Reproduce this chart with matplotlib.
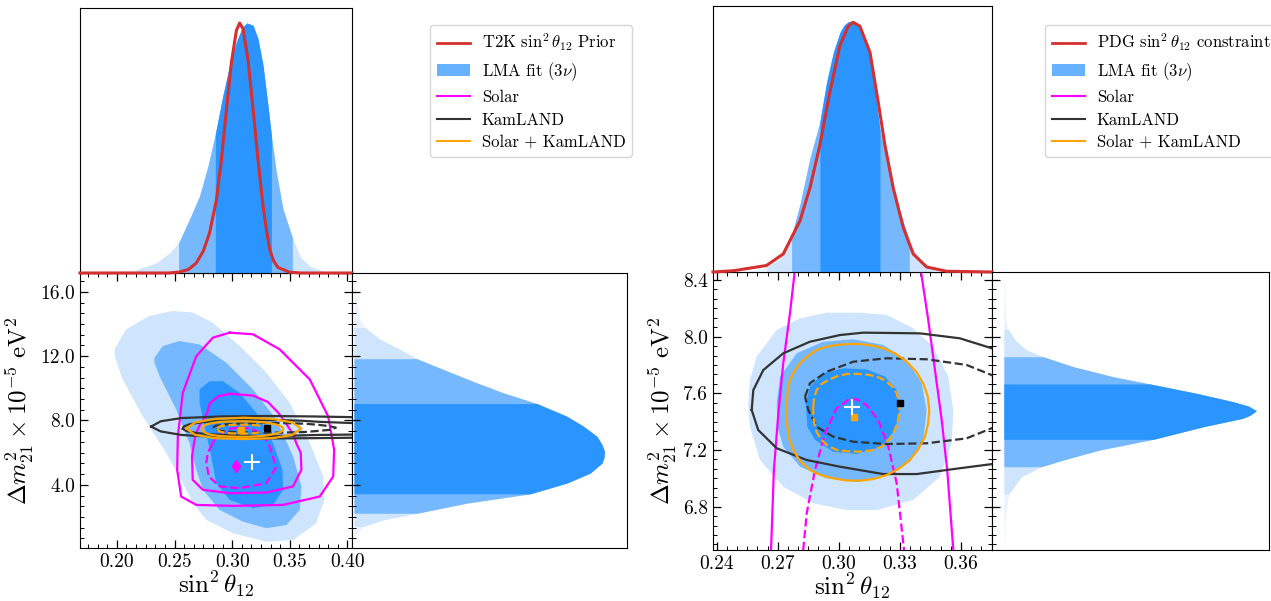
import numpy as np
import matplotlib
matplotlib.use("Agg")
import matplotlib.pyplot as plt
from matplotlib.lines import Line2D
from matplotlib.patches import Patch
from matplotlib.ticker import MultipleLocator, AutoMinorLocator, FormatStrFormatter

plt.rcParams.update({
    "font.family": "serif",
    "font.serif": ["cmr10"],
    "mathtext.fontset": "cm",
    "axes.formatter.use_mathtext": True,
    "axes.unicode_minus": False,
})

# ---------------- data ----------------
# left: LMA fit with T2K prior, contours (x = sin^2 theta12, y = dm2 in 1e-5 eV^2)
lma_left_3s = [(0.198, 12.42), (0.208, 13.67), (0.228, 14.50), (0.2485, 14.81), (0.266, 14.71),
               (0.283, 14.09), (0.3065, 12.63), (0.3297, 10.97), (0.350, 9.10), (0.3674, 6.60),
               (0.379, 4.52), (0.380, 3.06), (0.373, 1.61), (0.353, 0.57), (0.3297, 0.46),
               (0.3007, 0.99), (0.2776, 1.82), (0.266, 2.86), (0.2558, 4.31), (0.2428, 5.98),
               (0.2224, 8.26), (0.205, 10.55), (0.198, 12.0)]
lma_left_2s = [(0.2326, 11.9), (0.2398, 12.63), (0.2543, 12.94), (0.2717, 12.73), (0.295, 11.59),
               (0.3181, 9.93), (0.3384, 8.05), (0.3529, 5.77), (0.3601, 3.90), (0.3587, 2.44),
               (0.3471, 1.50), (0.3297, 1.30), (0.3094, 1.71), (0.2891, 2.44), (0.2746, 3.69),
               (0.2689, 4.94), (0.263, 6.60), (0.2515, 8.68), (0.237, 10.76), (0.2326, 11.6)]
lma_left_1s = [(0.2717, 9.93), (0.2804, 10.44), (0.292, 10.44), (0.3065, 9.72), (0.321, 8.47),
               (0.3355, 6.60), (0.3437, 4.94), (0.3442, 3.69), (0.3355, 2.75), (0.3181, 2.55),
               (0.2978, 3.06), (0.2862, 4.10), (0.2819, 5.77), (0.2761, 7.64), (0.2717, 9.10)]

# right: LMA fit with PDG constraint
lma_right_3s = [(0.2563, 7.694), (0.2596, 7.858), (0.2695, 8.047), (0.2809, 8.129), (0.294, 8.169),
                (0.3103, 8.169), (0.3235, 8.153), (0.3365, 8.059), (0.3463, 7.929), (0.3537, 7.717),
                (0.3562, 7.482), (0.3554, 7.247), (0.3496, 7.011), (0.3365, 6.847), (0.3186, 6.776),
                (0.3038, 6.776), (0.2874, 6.824), (0.2727, 6.941), (0.2613, 7.129), (0.2563, 7.364),
                (0.2555, 7.529)]
lma_right_2s = [(0.2695, 7.529), (0.2711, 7.717), (0.2793, 7.882), (0.2923, 7.964), (0.3071, 7.981),
                (0.3218, 7.941), (0.3333, 7.835), (0.3407, 7.671), (0.3431, 7.482), (0.3415, 7.271),
                (0.3349, 7.117), (0.3235, 7.023), (0.3087, 6.976), (0.294, 7.0), (0.2809, 7.082),
                (0.2727, 7.223), (0.2698, 7.364)]
lma_right_1s = [(0.2838, 7.529), (0.2858, 7.647), (0.2923, 7.741), (0.3022, 7.776), (0.3136, 7.769),
                (0.3226, 7.717), (0.3284, 7.623), (0.330, 7.482), (0.3275, 7.341), (0.321, 7.223),
                (0.3087, 7.172), (0.2972, 7.188), (0.2883, 7.271), (0.2845, 7.364)]

# Solar
solar_3s = [(0.2978, 13.46), (0.2833, 13.15), (0.2689, 12.0), (0.2572, 9.72), (0.2529, 7.01),
            (0.2523, 4.94), (0.2558, 3.27), (0.2689, 2.75), (0.3007, 2.69), (0.3442, 2.75),
            (0.376, 3.27), (0.3877, 4.52), (0.3885, 6.18), (0.3833, 8.26), (0.3674, 10.55),
            (0.3413, 12.42), (0.3181, 13.36)]
solar_2s = [(0.2978, 9.66), (0.288, 9.50), (0.2805, 9.05), (0.2784, 8.47), (0.276, 8.165),
            (0.2727, 7.812), (0.2703, 7.459), (0.2681, 7.059), (0.2667, 6.494), (0.2652, 5.77),
            (0.2658, 4.31), (0.2746, 3.69), (0.2978, 3.48), (0.3297, 3.52), (0.3529, 3.90),
            (0.3601, 4.94), (0.3595, 6.0), (0.3562, 6.494), (0.3532, 7.059), (0.3505, 7.412),
            (0.3472, 7.764), (0.3439, 8.117), (0.3402, 8.47), (0.331, 9.15), (0.3181, 9.55)]
solar_1s = [(0.2825, 6.494), (0.2842, 6.753), (0.2883, 7.059), (0.2932, 7.318), (0.2989, 7.494),
            (0.3046, 7.553), (0.3087, 7.558), (0.3136, 7.517), (0.3193, 7.412), (0.3243, 7.223),
            (0.3284, 6.965), (0.332, 6.494), (0.3365, 5.5), (0.3378, 5.04), (0.3297, 4.10),
            (0.3065, 3.79), (0.2891, 3.90), (0.2798, 4.52), (0.2776, 5.4), (0.279, 6.0)]

# KamLAND
kl_3s = [(0.2297, 7.62), (0.238, 7.95), (0.256, 8.15), (0.29, 8.25), (0.33, 8.28), (0.37, 8.25),
         (0.41, 8.20), (0.44, 8.10), (0.44, 6.95), (0.41, 6.93), (0.37, 6.90), (0.33, 6.88),
         (0.29, 6.95), (0.256, 7.10), (0.238, 7.32)]
kl_2s = [(0.2572, 7.482), (0.258, 7.623), (0.2629, 7.764), (0.2727, 7.882), (0.2858, 7.964),
         (0.3005, 8.011), (0.312, 8.028), (0.3398, 8.023), (0.3594, 7.988), (0.375, 7.918),
         (0.40, 7.85), (0.43, 7.80), (0.43, 7.15), (0.40, 7.12), (0.375, 7.10), (0.3594, 7.071),
         (0.3382, 7.030), (0.3218, 7.030), (0.3005, 7.082), (0.2842, 7.129), (0.2695, 7.212),
         (0.2604, 7.341)]
kl_1s = [(0.2834, 7.576), (0.2858, 7.671), (0.294, 7.752), (0.3071, 7.823), (0.3235, 7.847),
         (0.3431, 7.840), (0.3627, 7.80), (0.375, 7.729), (0.385, 7.64), (0.39, 7.55),
         (0.385, 7.42), (0.375, 7.353), (0.3627, 7.282), (0.3431, 7.247), (0.3235, 7.242),
         (0.3071, 7.258), (0.2972, 7.294), (0.2891, 7.364), (0.285, 7.482)]

# Solar + KamLAND
comb_3s = [(0.2602, 7.50), (0.268, 7.88), (0.285, 8.10), (0.31, 8.17), (0.335, 8.10), (0.352, 7.88),
           (0.36, 7.50), (0.352, 7.10), (0.335, 6.90), (0.31, 6.84), (0.285, 6.90), (0.268, 7.10)]
comb_2s = [(0.2744, 7.529), (0.2749, 7.62), (0.276, 7.694), (0.2781, 7.757), (0.2809, 7.812),
           (0.2847, 7.862), (0.2891, 7.906), (0.2937, 7.928), (0.2989, 7.941), (0.3046, 7.948),
           (0.3103, 7.948), (0.3162, 7.937), (0.3218, 7.918), (0.3280, 7.878), (0.3333, 7.823),
           (0.3380, 7.752), (0.3414, 7.671), (0.3436, 7.580), (0.3444, 7.482), (0.3438, 7.385),
           (0.3423, 7.294), (0.3390, 7.205), (0.3349, 7.129), (0.3295, 7.068), (0.3235, 7.023),
           (0.3170, 6.995), (0.3103, 6.983), (0.3036, 6.985), (0.2972, 7.0), (0.2912, 7.022),
           (0.2858, 7.059), (0.2810, 7.121), (0.2776, 7.2), (0.2756, 7.28), (0.2747, 7.364),
           (0.2743, 7.45)]
comb_1s = [(0.2874, 7.506), (0.2879, 7.570), (0.2891, 7.623), (0.2915, 7.665), (0.2948, 7.694),
           (0.2990, 7.720), (0.3038, 7.736), (0.3095, 7.737), (0.3153, 7.729), (0.3200, 7.710),
           (0.3235, 7.682), (0.3264, 7.645), (0.3284, 7.60), (0.3295, 7.54), (0.3297, 7.482),
           (0.3290, 7.410), (0.3275, 7.341), (0.3248, 7.275), (0.321, 7.223), (0.3160, 7.197),
           (0.3103, 7.188), (0.3045, 7.190), (0.2989, 7.20), (0.2945, 7.230), (0.2915, 7.271),
           (0.2892, 7.325), (0.2879, 7.388), (0.2874, 7.45)]

# best fit points
solar_best = (0.3037, 5.14)
kl_best = (0.330, 7.53)
comb_best = (0.3074, 7.43)
lma_best_left = (0.317, 5.39)
lma_best_right = (0.3063, 7.50)

# 1D marginals: sin^2 theta12 (x, relative density)
left_s12_x = [0.168, 0.1703, 0.1935, 0.2167, 0.2341, 0.2457, 0.2535, 0.2630, 0.2717, 0.2790,
              0.2854, 0.2920, 0.2978, 0.3037, 0.3089, 0.3129, 0.3181, 0.3224, 0.3268, 0.3311,
              0.3341, 0.3384, 0.3442, 0.3523, 0.3587, 0.3674, 0.3790, 0.3906, 0.404]
left_s12_p = [0, 0, 0.003, 0.013, 0.040, 0.080, 0.12, 0.215, 0.308, 0.428,
              0.555, 0.710, 0.830, 0.924, 0.984, 1.0, 0.991, 0.937, 0.830, 0.669,
              0.549, 0.402, 0.255, 0.141, 0.067, 0.027, 0.007, 0.0, 0]
left_s12_bands = [(0.2167, 0.3790), (0.2535, 0.3523), (0.2854, 0.3341)]

t2k_x = [0.168, 0.245, 0.2543, 0.2620, 0.2689, 0.2750, 0.2804, 0.2863, 0.2906, 0.2950, 0.2993,
         0.3037, 0.3065, 0.3094, 0.3137, 0.3181, 0.3224, 0.3268, 0.3300, 0.3326, 0.3360, 0.3398,
         0.3500, 0.36, 0.404]
t2k_p = [0, 0, 0.004, 0.014, 0.04, 0.088, 0.16, 0.29, 0.45, 0.65, 0.84,
         0.97, 1.0, 0.977, 0.857, 0.657, 0.455, 0.268, 0.165, 0.094, 0.048, 0.022,
         0.003, 0, 0]

right_s12_x = [0.2382, 0.2563, 0.2645, 0.2711, 0.2768, 0.2809, 0.2858, 0.2907, 0.294, 0.2973,
               0.3005, 0.3025, 0.3046, 0.3068, 0.3095, 0.3115, 0.3136, 0.3169, 0.3202, 0.3235,
               0.3284, 0.3346, 0.3398, 0.3463, 0.3554, 0.3752]
right_s12_p = [0, 0.004, 0.02, 0.053, 0.145, 0.27, 0.454, 0.599, 0.757, 0.875,
               0.954, 0.983, 0.997, 1.0, 0.987, 0.960, 0.914, 0.77, 0.566, 0.454,
               0.283, 0.125, 0.046, 0.013, 0.0, 0]
right_s12_bands = [(0.2645, 0.3463), (0.2768, 0.3346), (0.2907, 0.3202)]

pdg_x = [0.2382, 0.2482, 0.2645, 0.2727, 0.2809, 0.2858, 0.2907, 0.2956, 0.3005, 0.3046, 0.307,
         0.3103, 0.3153, 0.3193, 0.3226, 0.3267, 0.3316, 0.3365, 0.3431, 0.3529, 0.3752]
pdg_p = [0, 0.005, 0.026, 0.072, 0.204, 0.335, 0.507, 0.717, 0.901, 0.98, 0.995,
         0.98, 0.875, 0.678, 0.507, 0.335, 0.178, 0.072, 0.02, 0.003, 0]

# 1D marginals: dm2 (y, relative density)
left_dm_y = [17.1, 16.79, 15.33, 14.29, 13.78, 13.05, 12.42, 11.84, 11.17, 10.34, 9.72, 9.05,
             8.26, 7.64, 7.01, 6.50, 6.08, 5.70, 5.35, 4.73, 4.11, 3.44, 2.86, 2.23, 1.82, 1.4,
             0.78, 0.1]
left_dm_p = [0, 0.002, 0.011, 0.024, 0.044, 0.104, 0.184, 0.251, 0.357, 0.49, 0.596, 0.73,
             0.85, 0.916, 0.97, 0.99, 1.0, 0.998, 0.99, 0.943, 0.85, 0.703, 0.45, 0.251, 0.117,
             0.037, 0.004, 0]
left_dm_bands = [(1.4, 13.78), (2.23, 11.84), (3.44, 9.05)]

right_dm_y = [8.456, 8.117, 8.052, 7.976, 7.906, 7.858, 7.788, 7.717, 7.666, 7.60, 7.541, 7.51,
              7.477, 7.445, 7.424, 7.364, 7.275, 7.2, 7.129, 7.082, 7.012, 6.889, 6.706, 6.494]
right_dm_p = [0, 0.008, 0.017, 0.044, 0.09, 0.156, 0.274, 0.433, 0.578, 0.762, 0.907, 0.968,
              1.0, 0.975, 0.947, 0.789, 0.591, 0.38, 0.235, 0.149, 0.07, 0.019, 0.005, 0]
right_dm_bands = [(6.889, 8.052), (7.082, 7.858), (7.275, 7.666)]

# ---------------- style ----------------
DARK = "#2b95ff"
MID = "#76b8fd"
LIGHT = "#cfe5fd"
FAINT = "#ebf4fe"
LEGEND_BLUE = "#66b2ff"
RED = "#d62f2f"
MAGENTA = "#ff00ff"
GREY = "#333333"
ORANGE = "#ffa500"

W, H = 1271, 601
fig = plt.figure(figsize=(W / 100, H / 100), dpi=100)


def box(x0, y0, x1, y1):
    return fig.add_axes([x0 / W, 1 - y1 / H, (x1 - x0) / W, (y1 - y0) / H])


def closed(pts):
    a = np.array(pts + [pts[0]])
    return a[:, 0], a[:, 1]


def style_ticks(ax, **kw):
    ax.tick_params(which="both", direction="in", **kw)
    ax.tick_params(which="major", length=6, width=0.9)
    ax.tick_params(which="minor", length=3, width=0.7)


def main_panel(ax, lma, levels_2d, show_3s, best_lma, xlim, ylim, xstep, ystep, xfmt):
    for pts, c in zip(lma, [LIGHT, MID, DARK]):
        xs, ys = closed(pts)
        ax.fill(xs, ys, color=c, lw=0, zorder=1)
    for (c3, c2, c1), col in zip(levels_2d, [MAGENTA, GREY, ORANGE]):
        if show_3s:
            ax.plot(*closed(c3), color=col, lw=1.6, zorder=3)
        ax.plot(*closed(c2), color=col, lw=1.6, zorder=3)
        ax.plot(*closed(c1), color=col, lw=1.6, ls="--", zorder=3)
    ax.plot(*solar_best, marker="d", color=MAGENTA, ms=6, zorder=5)
    ax.plot(*kl_best, marker="s", color="black", ms=5, zorder=5)
    ax.plot(*comb_best, marker="s", color=ORANGE, ms=5, zorder=5)
    ax.plot(*best_lma, marker="+", color="white", ms=12, mew=1.5, zorder=6)
    ax.set_xlim(*xlim)
    ax.set_ylim(*ylim)
    ax.xaxis.set_major_locator(MultipleLocator(xstep))
    ax.yaxis.set_major_locator(MultipleLocator(ystep))
    ax.xaxis.set_minor_locator(AutoMinorLocator(6))
    ax.yaxis.set_minor_locator(AutoMinorLocator(6))
    ax.xaxis.set_major_formatter(FormatStrFormatter(xfmt))
    ax.yaxis.set_major_formatter(FormatStrFormatter("%.1f"))
    style_ticks(ax, top=True, right=True, labelsize=14)
    ax.set_xlabel(r"$\sin^2\theta_{12}$", fontsize=18, labelpad=-1)
    ax.set_ylabel(r"$\Delta m^2_{21}\times 10^{-5}\ \mathrm{eV}^2$", fontsize=18, labelpad=3)


def top_panel(ax, x, p, bands, px, pp, xlim):
    x = np.array(x)
    p = np.array(p)
    ax.fill_between(x, 0, p, color=FAINT, lw=0)
    for (lo, hi), c in zip(bands, [LIGHT, MID, DARK]):
        m = (x >= lo - 1e-9) & (x <= hi + 1e-9)
        ax.fill_between(x[m], 0, p[m], color=c, lw=0)
    ax.plot(px, pp, color=RED, lw=2.2, clip_on=False, zorder=4)
    ax.set_xlim(*xlim)
    ax.set_ylim(0, 1.06)
    ax.set_xticks([])
    ax.set_yticks([])


def side_panel(ax, y, p, bands, ylim, xlim):
    y = np.array(y)
    p = np.array(p)
    ax.fill_betweenx(y, 0, p, color=FAINT, lw=0)
    for (lo, hi), c in zip(bands, [LIGHT, MID, DARK]):
        m = (y >= lo - 1e-9) & (y <= hi + 1e-9)
        ax.fill_betweenx(y[m], 0, p[m], color=c, lw=0)
    ax.set_ylim(*ylim)
    ax.set_xlim(*xlim)
    ax.set_xticks([])
    ax.yaxis.set_minor_locator(AutoMinorLocator(6))
    style_ticks(ax, labelleft=False)


# ---------------- left figure ----------------
contours_left = [(solar_3s, solar_2s, solar_1s), (kl_3s, kl_2s, kl_1s), (comb_3s, comb_2s, comb_1s)]
contours_right = contours_left

axL = box(80, 273, 352, 548)
main_panel(axL, [lma_left_3s, lma_left_2s, lma_left_1s], contours_left, True, lma_best_left,
           (0.168, 0.404), (0.07, 17.17), 0.05, 4, "%.2f")
axLt = box(80, 8, 352, 273)
top_panel(axLt, left_s12_x, left_s12_p, left_s12_bands, t2k_x, t2k_p, (0.168, 0.404))
axLr = box(352, 273, 627, 548)
side_panel(axLr, left_dm_y, left_dm_p, left_dm_bands, (0.07, 17.17), (-0.008, 1.09))
axLr.yaxis.set_major_locator(MultipleLocator(4))

# ---------------- right figure ----------------
axR = box(713, 272, 992, 550)
main_panel(axR, [lma_right_3s, lma_right_2s, lma_right_1s], contours_right, False, lma_best_right,
           (0.2382, 0.3752), (6.494, 8.456), 0.03, 0.4, "%.2f")
axRt = box(713, 6, 992, 272)
top_panel(axRt, right_s12_x, right_s12_p, right_s12_bands, pdg_x, pdg_p, (0.2382, 0.3752))
axRr = box(992, 272, 1269, 550)
side_panel(axRr, right_dm_y, right_dm_p, right_dm_bands, (6.494, 8.456), (-0.047, 1.05))
axRr.yaxis.set_major_locator(MultipleLocator(0.4))

# ---------------- legends ----------------
def legend_at(x, y, first_label):
    handles = [Line2D([], [], color=RED, lw=2),
               Patch(facecolor=LEGEND_BLUE, edgecolor="none"),
               Line2D([], [], color=MAGENTA, lw=1.5),
               Line2D([], [], color=GREY, lw=1.5),
               Line2D([], [], color=ORANGE, lw=1.5)]
    labels = [first_label, r"LMA fit ($3\nu$)", "Solar", "KamLAND", "Solar + KamLAND"]
    fig.legend(handles, labels, loc="upper left", bbox_to_anchor=(x / W, 1 - y / H),
               borderaxespad=0, fontsize=12, frameon=True, handletextpad=0.7,
               labelspacing=0.42)


legend_at(430, 25, r"T2K $\sin^2\theta_{12}$ Prior")
legend_at(1045, 25, r"PDG $\sin^2\theta_{12}$ constraint")

fig.savefig("out.png", dpi=100)
